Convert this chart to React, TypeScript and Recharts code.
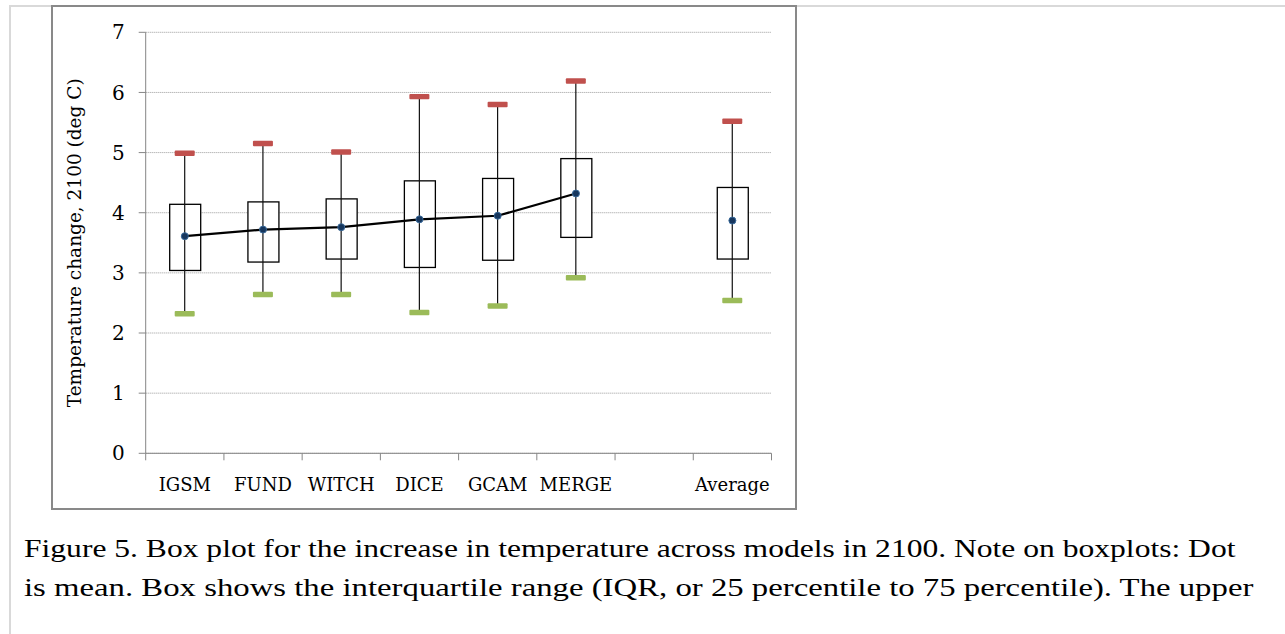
import React from "react";
import {
  ComposedChart,
  Bar,
  Line,
  Scatter,
  XAxis,
  YAxis,
  CartesianGrid,
} from "recharts";

const models = ["IGSM", "FUND", "WITCH", "DICE", "GCAM", "MERGE", "", "Average"];
const lowVals = [2.32, 2.64, 2.64, 2.34, 2.45, 2.92, null, 2.54];
const q1Vals = [3.04, 3.18, 3.23, 3.09, 3.21, 3.59, null, 3.23];
const meanVals = [3.61, 3.72, 3.76, 3.89, 3.95, 4.32, null, 3.87];
const q3Vals = [4.14, 4.18, 4.23, 4.53, 4.57, 4.9, null, 4.42];
const highVals = [4.99, 5.15, 5.01, 5.93, 5.8, 6.19, null, 5.52];
const yTicks = [0, 1, 2, 3, 4, 5, 6, 7];
// category boundaries, where the x axis has its tick marks
const slotTicks = [0, 1, 2, 3, 4, 5, 6, 7, 8];

const rows = models.map((name, i) => ({
  name,
  low: lowVals[i],
  q1: q1Vals[i],
  q3: q3Vals[i],
  high: highVals[i],
  trend: name !== "Average" ? meanVals[i] : null,
  avg: name === "Average" ? meanVals[i] : null,
}));
const slotRows = slotTicks.map((slot) => ({ slot, base: 0 }));

const serif = '"DejaVu Serif", serif';
const axisGray = "#868686";

const WhiskerShape = (props: any) => {
  const { x, y, width, height } = props;
  if (height == null || isNaN(y)) return null;
  const cx = x + width / 2;
  return (
    <g>
      <line x1={cx} x2={cx} y1={y} y2={y + height} stroke="#111" strokeWidth={1.2} />
      <rect x={x} y={y - 2.7} width={width} height={5.4} rx={1} fill="#c0504d" />
      <rect x={x} y={y + height - 2.7} width={width} height={5.4} rx={1} fill="#9bbb59" />
    </g>
  );
};

const BoxShape = (props: any) => {
  const { x, y, width, height } = props;
  if (height == null || isNaN(y)) return null;
  return <rect x={x} y={y} width={width} height={height} fill="#fff" stroke="#000" strokeWidth={1.3} />;
};

const TickMark = (props: any) => {
  const { cx, cy } = props;
  if (cx == null || cy == null) return null;
  return <line x1={cx} x2={cx} y1={cy} y2={cy + 7} stroke={axisGray} strokeWidth={1} />;
};

const YLabel = (props: any) => {
  const { viewBox } = props;
  const x = viewBox.x - 15;
  const y = viewBox.y + viewBox.height / 2;
  return (
    <text
      x={x}
      y={y}
      transform={`rotate(-90 ${x} ${y})`}
      textAnchor="middle"
      fontFamily={serif}
      fontSize={18.5}
      fill="#000"
    >
      Temperature change, 2100 (deg C)
    </text>
  );
};

const captionLine = (text: string, stretch: number) => (
  <div style={{ transform: `scaleX(${stretch})`, transformOrigin: "0 0" }}>{text}</div>
);

export default function App() {
  return (
    <div style={{ position: "absolute", left: 0, top: 0, width: 1285, height: 634, overflow: "hidden", background: "#fff" }}>
      <div
        style={{
          position: "absolute",
          left: 9,
          top: 5,
          width: 1300,
          height: 700,
          borderTop: "2px solid #d9d9d9",
          borderLeft: "2px solid #d9d9d9",
        }}
      />
      <div
        style={{
          position: "absolute",
          left: 51,
          top: 5,
          width: 746,
          height: 505,
          border: "2px solid #898989",
          boxSizing: "border-box",
          background: "#fff",
        }}
      >
        <ComposedChart
          width={742}
          height={501}
          data={rows}
          margin={{ top: 25.3, right: 23.5, left: 42.7, bottom: 14.7 }}
        >
          <CartesianGrid horizontal vertical={false} stroke="#9a9a9a" strokeDasharray="1 1" />
          <XAxis
            dataKey="name"
            interval={0}
            height={40}
            axisLine={{ stroke: axisGray }}
            tickLine={false}
            tickSize={0}
            tickMargin={25}
            tick={{ fontFamily: serif, fontSize: 18, fill: "#000" }}
          />
          <XAxis xAxisId="box" dataKey="name" hide />
          <XAxis xAxisId="slots" dataKey="slot" type="number" domain={[0, 8]} hide />
          <YAxis
            type="number"
            domain={[0, 7]}
            ticks={yTicks}
            width={50}
            tickSize={7}
            tickMargin={14}
            axisLine={{ stroke: axisGray }}
            tickLine={{ stroke: axisGray }}
            tick={{ fontFamily: serif, fontSize: 20, fill: "#000" }}
            label={<YLabel />}
          />
          <Bar
            xAxisId="box"
            dataKey={(d: any) => (d.q1 == null ? null : [d.q1, d.q3])}
            barSize={31}
            shape={<BoxShape />}
            isAnimationActive={false}
          />
          <Bar
            dataKey={(d: any) => (d.low == null ? null : [d.low, d.high])}
            barSize={20}
            shape={<WhiskerShape />}
            isAnimationActive={false}
          />
          <Line
            dataKey="trend"
            stroke="#000"
            strokeWidth={2.2}
            dot={{ r: 3.5, fill: "#17375e", stroke: "#3a6a9a", strokeWidth: 1 }}
            activeDot={false}
            isAnimationActive={false}
          />
          <Line
            dataKey="avg"
            stroke="none"
            dot={{ r: 3.5, fill: "#17375e", stroke: "#3a6a9a", strokeWidth: 1 }}
            activeDot={false}
            isAnimationActive={false}
          />
          <Scatter
            xAxisId="slots"
            data={slotRows}
            dataKey="base"
            shape={<TickMark />}
            isAnimationActive={false}
          />
        </ComposedChart>
      </div>
      <div
        style={{
          position: "absolute",
          left: 24,
          top: 529,
          fontFamily: '"Liberation Serif", serif',
          fontSize: 26,
          lineHeight: "39px",
          color: "#000",
          whiteSpace: "nowrap",
        }}
      >
        {captionLine("Figure 5. Box plot for the increase in temperature across models in 2100. Note on boxplots: Dot", 1.214)}
        {captionLine("is mean. Box shows the interquartile range (IQR, or 25 percentile to 75 percentile). The upper", 1.26)}
      </div>
    </div>
  );
}
